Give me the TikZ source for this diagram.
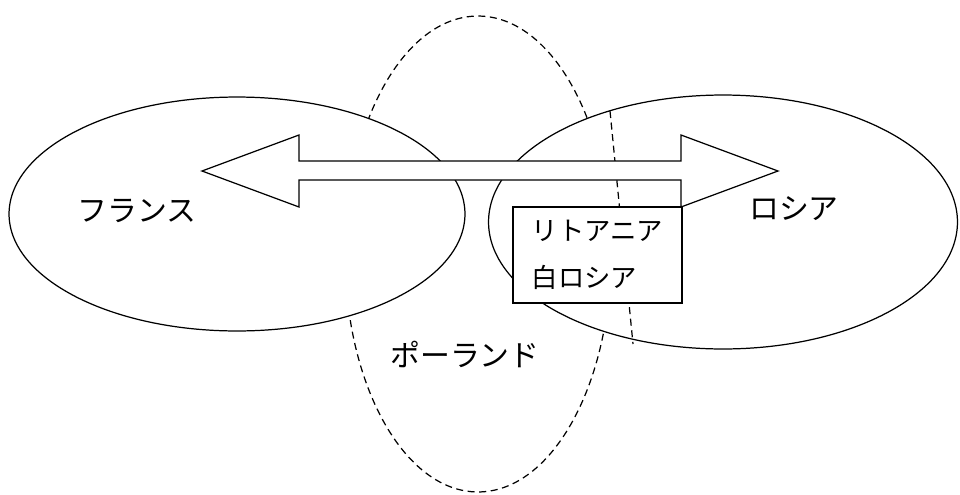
\documentclass[tikz,border=0pt]{standalone}
\usepackage{fontspec}
\newfontfamily\jpfont{Noto Sans CJK JP}
\usetikzlibrary{shapes.geometric}

\begin{document}
\begin{tikzpicture}[
      x=0.02cm,y=-0.02cm,line width=0.7pt,
      region/.style={draw,ellipse,fill=white,inner sep=0pt},
      border/.style={dashed,dash pattern=on 4pt off 2.6pt},
      country/.style={font=\jpfont\fontsize{17}{20}\selectfont},
      inset/.style={draw,fill=white,align=left,minimum width=3.38cm,minimum height=1.92cm,
      font=\jpfont\fontsize{15}{27}\selectfont}
    ]
    \useasboundingbox (0,0) rectangle (960,494);
    \node[region,border,fill=none,minimum width=5.32cm,minimum height=9.52cm] (poland) at (478,254) {};
    \node[region,minimum width=9.12cm,minimum height=4.68cm] (france) at (237,214) {};
    \node[region,minimum width=9.38cm,minimum height=5.08cm] (russia) at (723,222) {};
    % dashed border inside russia
    \coordinate (ltop) at (610,111);
    \coordinate (lbot) at (633,344);
    \draw[border] (ltop) -- (lbot);
    % double block arrow
    \draw[fill=white] (202,171) -- (299,135) -- (299,161) -- (681,161) -- (681,135) -- (778,171)
      -- (681,207) -- (681,180) -- (299,180) -- (299,207) -- cycle;
    \node[inset] (lith) at (597.5,255) {リトアニア\\白ロシア};
    \node[country] (fr) at (137,211) {フランス};
    \node[country] (ru) at (794,209) {ロシア};
    \node[country] (pl) at (465,354) {ポーランド};
  \end{tikzpicture}
\end{document}
